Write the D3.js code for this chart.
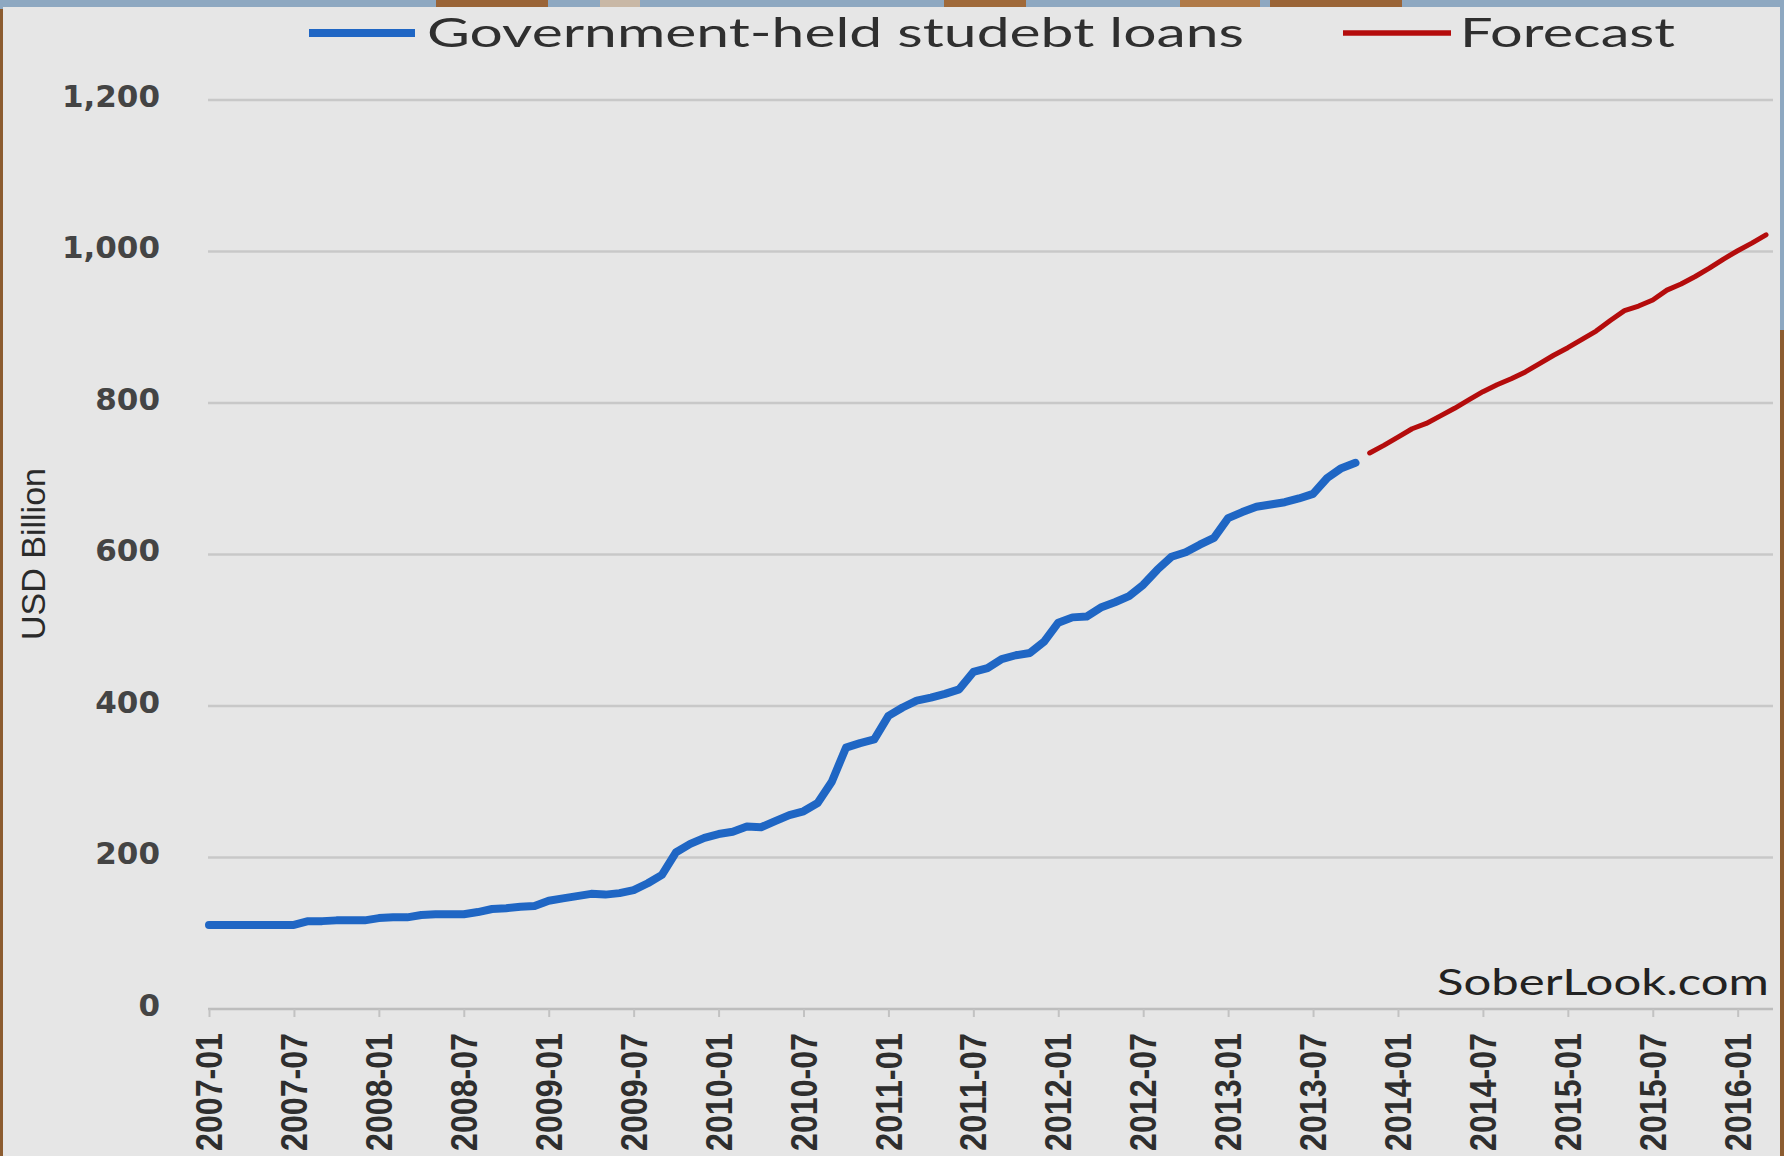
<!DOCTYPE html>
<html>
<head>
<meta charset="utf-8">
<script src="https://cdn.jsdelivr.net/npm/d3@7"></script>
<style>
  html, body { margin: 0; padding: 0; background: #e6e6e6; overflow: hidden; }
  svg { display: block; }
</style>
</head>
<body>
<script>
// Monthly categories start here; one entry per month
const startMonth = new Date(2007, 0, 1);

// Government-held student loans, USD billion, 2007-01 .. 2013-10
const studentLoans = [
  111, 111, 111, 111, 111, 111, 111, 116, 116, 117, 117, 117,
  120, 121, 121, 124, 125, 125, 125, 128, 132, 133, 135, 136,
  143, 146, 149, 152, 151, 153, 157, 166, 177, 207, 218, 226,
  231, 234, 241, 240, 248, 256, 261, 272, 300, 345, 351, 356,
  387, 398, 407, 411, 416, 422, 445, 450, 462, 467, 470, 485,
  510, 517, 518, 530, 537, 545, 560, 580, 597, 603, 613, 622,
  648, 656, 663, 666, 669, 674, 680, 701, 714, 721
];

// Forecast, USD billion, 2013-11 .. 2016-03
const forecast = [
  734, 744, 755, 766, 773, 783, 793, 804, 815, 824, 832, 841,
  852, 863, 873, 884, 895, 909, 922, 928, 936, 949, 957, 967,
  978, 990, 1001, 1011, 1022
];

const yTicks = [0, 200, 400, 600, 800, 1000, 1200];
const xTickEvery = 6; // a label every six months

const seriesNames = ["Government-held studebt loans", "Forecast"];
const seriesColors = ["#1f66c4", "#b40c0c"];
const yTitle = "USD Billion";
const credit = "SoberLook.com";

// ---- derived ----
const nMonths = studentLoans.length + forecast.length;
const months = d3.timeMonth.range(startMonth, d3.timeMonth.offset(startMonth, nMonths));
const fmtMonth = d3.timeFormat("%Y-%m");
const loanPts = studentLoans.map((v, i) => ({ i, v }));
const forecastPts = forecast.map((v, k) => ({ i: studentLoans.length + k, v }));

const W = 1784, H = 1156;
const plot = { left: 209, right: 1766, top: 100, bottom: 1009 };

const svg = d3.select("body").append("svg")
  .attr("width", W).attr("height", H)
  .attr("viewBox", `0 0 ${W} ${H}`);

// surrounding photo border strips
svg.append("rect").attr("x", 0).attr("y", 0).attr("width", W).attr("height", H).attr("fill", "#8c5c30");
const border = svg.append("g");
border.append("rect").attr("x", 0).attr("y", 0).attr("width", W).attr("height", 9).attr("fill", "#8ea8c1");
border.append("rect").attr("x", 1778).attr("y", 0).attr("width", 6).attr("height", 330).attr("fill", "#8ea8c1");
[[436, 548, "#9a6437"], [600, 640, "#c9b8a6"], [944, 1026, "#a06a3a"], [1180, 1260, "#b07a48"],
 [1270, 1402, "#9a6437"]].forEach(([a, b, c]) => {
  border.append("rect").attr("x", a).attr("y", 0).attr("width", b - a).attr("height", 7).attr("fill", c);
});

// chart panel
svg.append("rect")
  .attr("x", 3).attr("y", 7).attr("width", 1777).attr("height", H - 7)
  .attr("fill", "#e6e6e6");

const x = d3.scaleLinear().domain([0, nMonths - 1]).range([plot.left, plot.right]);
const y = d3.scaleLinear().domain([0, 1200]).range([plot.bottom, plot.top]);

// horizontal gridlines
svg.append("g").selectAll("line")
  .data(yTicks.filter(t => t > 0))
  .join("line")
  .attr("x1", plot.left - 1).attr("x2", plot.right + 7)
  .attr("y1", d => y(d)).attr("y2", d => y(d))
  .attr("stroke", "#c8c8c8").attr("stroke-width", 2.5);

// y axis labels
svg.append("g").selectAll("text")
  .data(yTicks)
  .join("text")
  .attr("x", 160).attr("y", d => y(d) - 2)
  .attr("text-anchor", "end").attr("dominant-baseline", "middle")
  .attr("font-family", "DejaVu Sans, Verdana, sans-serif")
  .attr("font-weight", "bold").attr("font-size", 31)
  .attr("fill", "#444")
  .text(d => d3.format(",")(d));

// x axis with rotated month labels
const xTickVals = d3.range(0, nMonths, xTickEvery);
const xAxis = d3.axisBottom(x)
  .tickValues(xTickVals)
  .tickSize(8)
  .tickPadding(0)
  .tickFormat(i => fmtMonth(months[i]));
const gx = svg.append("g").attr("transform", `translate(0,${plot.bottom})`).call(xAxis);
gx.select(".domain").attr("d", `M${plot.left - 1},0H${plot.right + 7}`)
  .attr("stroke", "#bdbdbd").attr("stroke-width", 2.5);
gx.selectAll(".tick line").attr("stroke", "#c2c2c2").attr("stroke-width", 2);
gx.selectAll(".tick text")
  .attr("transform", "rotate(-90)")
  .attr("x", -24).attr("y", 0).attr("dy", "0.35em")
  .attr("text-anchor", "end")
  .attr("font-family", "Liberation Sans, Arial, sans-serif")
  .attr("font-weight", "bold").attr("font-size", 36)
  .attr("fill", "#2e2e2e")
  .attr("textLength", 118).attr("lengthAdjust", "spacingAndGlyphs");

// y axis title
svg.append("text")
  .attr("transform", "translate(45,554) rotate(-90)")
  .attr("text-anchor", "middle")
  .attr("font-family", "Liberation Sans Narrow, Liberation Sans, Arial, sans-serif")
  .attr("font-size", 34).attr("fill", "#2a2a2a")
  .attr("textLength", 172).attr("lengthAdjust", "spacingAndGlyphs")
  .text(yTitle);

// series lines
const line = d3.line().x(d => x(d.i)).y(d => y(d.v)).curve(d3.curveLinear);
svg.append("path").datum(loanPts)
  .attr("d", line).attr("fill", "none")
  .attr("stroke", seriesColors[0]).attr("stroke-width", 8)
  .attr("stroke-linejoin", "round").attr("stroke-linecap", "round");
svg.append("path").datum(forecastPts)
  .attr("d", line).attr("fill", "none")
  .attr("stroke", seriesColors[1]).attr("stroke-width", 5)
  .attr("stroke-linejoin", "round").attr("stroke-linecap", "round");

// legend
const legend = [
  { name: seriesNames[0], color: seriesColors[0], width: 8, x1: 309, x2: 415, tx: 427, len: 817 },
  { name: seriesNames[1], color: seriesColors[1], width: 5.5, x1: 1343, x2: 1451, tx: 1460, len: 215 }
];
const lg = svg.append("g");
legend.forEach(l => {
  lg.append("line").attr("x1", l.x1).attr("x2", l.x2).attr("y1", 33).attr("y2", 33)
    .attr("stroke", l.color).attr("stroke-width", l.width);
  lg.append("text").attr("x", l.tx).attr("y", 47)
    .attr("font-family", "Lato, Open Sans, sans-serif")
    .attr("font-size", 41).attr("fill", "#2f2f2f")
    .attr("textLength", l.len).attr("lengthAdjust", "spacingAndGlyphs")
    .text(l.name);
});

// source credit
svg.append("text")
  .attr("x", 1437).attr("y", 995)
  .attr("font-family", "Lato, Open Sans, sans-serif")
  .attr("font-size", 36).attr("fill", "#222")
  .attr("textLength", 332).attr("lengthAdjust", "spacingAndGlyphs")
  .text(credit);
</script>
</body>
</html>
